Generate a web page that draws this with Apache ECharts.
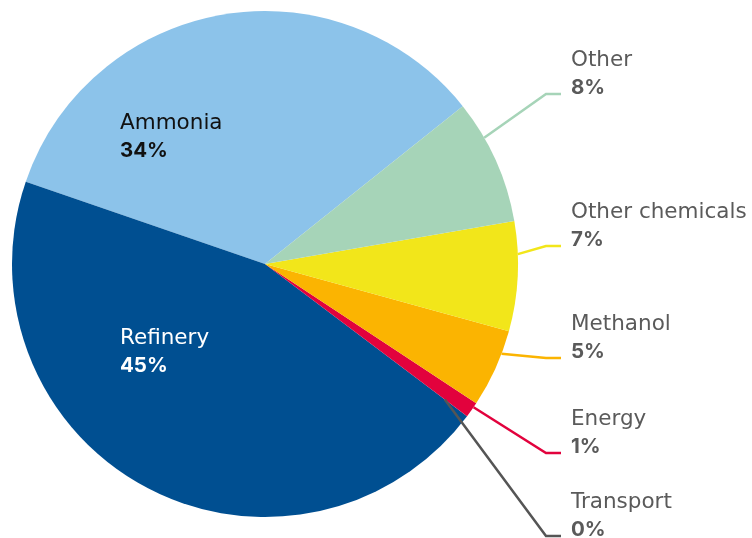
<!DOCTYPE html>
<html>
<head>
<meta charset="utf-8">
<script src="https://cdn.jsdelivr.net/npm/echarts@6/dist/echarts.min.js"></script>
<style>
  html, body { margin: 0; padding: 0; background: #ffffff; }
  #chart { width: 752px; height: 538px; }
</style>
</head>
<body>
<div id="chart"></div>
<script>
// Hydrogen demand by end use, share in percent (listed counter-clockwise from "Ammonia")
const categories = ['Ammonia', 'Refinery', 'Transport', 'Energy', 'Methanol', 'Other chemicals', 'Other'];
const shares = [34, 45, 0, 1, 5, 7, 8];

// Styling
const sliceColors = ['#8cc3ea', '#004f91', '#555555', '#e2023d', '#fbb401', '#f2e61a', '#a6d4b8'];
const labelInk = ['#111111', '#ffffff', '#5a5a5a', '#5a5a5a', '#5a5a5a', '#5a5a5a', '#5a5a5a'];
const insideLabels = new Set(['Ammonia', 'Refinery']);

// Layout
const CENTER = [265, 264];
const RADIUS = 253;
const START_ANGLE = 38.6;
const LABEL_COLUMN_X = 571;
const INSIDE_LABEL_X = 120;
const labelMidY = [137, 352, 516, 433, 338, 226, 74];
const ELBOW_X = 546;
const LINE_END_X = 561;

const total = shares.reduce((a, b) => a + b, 0);
const sliceStart = [];
let acc = START_ANGLE;
shares.forEach(v => { sliceStart.push(acc); acc += v / total * 360; });

// Point on the slice where its leader line begins
function anchorPoint(i) {
  const span = shares[i] / total * 360;
  const a = (sliceStart[i] + 0.7 * span) * Math.PI / 180;
  const r = shares[i] > 0 ? RADIUS : RADIUS * 0.89;
  return [CENTER[0] + r * Math.cos(a), CENTER[1] - r * Math.sin(a)];
}

const labelText = {
  show: true,
  position: 'outside',
  formatter: p => '{n|' + p.name + '}\n{p|' + p.value + '%}',
  rich: {
    n: { fontFamily: 'DejaVu Sans', fontSize: 21.5, fontWeight: 400, lineHeight: 28 },
    p: { fontFamily: 'Inter', fontSize: 20.5, fontWeight: 700, lineHeight: 28 }
  }
};

const pieBase = {
  type: 'pie',
  center: CENTER,
  radius: RADIUS,
  startAngle: START_ANGLE,
  clockwise: false,
  avoidLabelOverlap: false,
  emphasis: { disabled: true }
};

const chart = echarts.init(document.getElementById('chart'), null, { renderer: 'canvas' });

chart.setOption({
  animation: false,
  backgroundColor: '#ffffff',
  series: [
    // Coloured slices with the two labels that sit inside the pie
    Object.assign({}, pieBase, {
      z: 2,
      itemStyle: { borderWidth: 0 },
      label: labelText,
      labelLine: { show: false },
      data: categories.map((name, i) => ({
        name: name,
        value: shares[i],
        itemStyle: { color: sliceColors[i] },
        label: { show: insideLabels.has(name), color: labelInk[i] }
      })),
      labelLayout: params => ({
        x: INSIDE_LABEL_X, y: labelMidY[params.dataIndex], align: 'left', verticalAlign: 'middle'
      })
    }),
    // Outside labels with leader lines, layered above the slices
    Object.assign({}, pieBase, {
      z: 3,
      silent: true,
      itemStyle: { color: 'rgba(0,0,0,0)', borderWidth: 0 },
      label: labelText,
      data: categories.map((name, i) => ({
        name: name,
        value: shares[i],
        itemStyle: { color: 'rgba(0,0,0,0)' },
        label: { show: !insideLabels.has(name), color: labelInk[i] },
        labelLine: {
          show: !insideLabels.has(name),
          lineStyle: { color: sliceColors[i], width: 2.5 }
        }
      })),
      labelLayout: function (params) {
        const i = params.dataIndex;
        const y = labelMidY[i];
        const a = anchorPoint(i);
        const ly = y + 20;
        return {
          x: LABEL_COLUMN_X, y: y, align: 'left', verticalAlign: 'middle',
          labelLinePoints: [a, [ELBOW_X, ly], [LINE_END_X, ly]]
        };
      }
    })
  ]
});
</script>
</body>
</html>
